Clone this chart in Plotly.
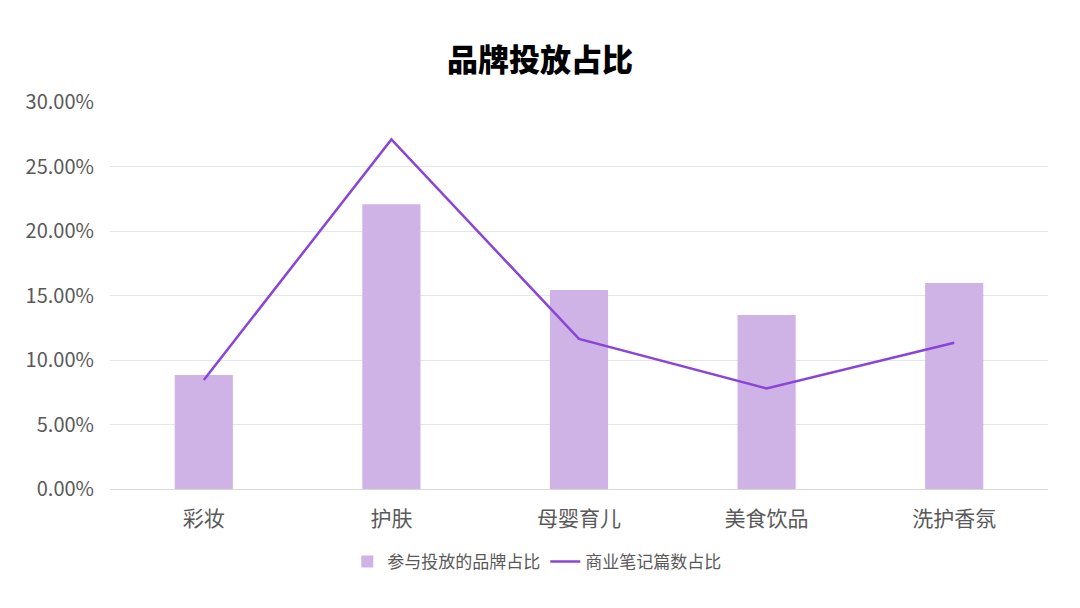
import plotly.graph_objects as go

categories = ["彩妆", "护肤", "母婴育儿", "美食饮品", "洗护香氛"]
brand_share = [0.0884, 0.2208, 0.1543, 0.1349, 0.1596]
note_share = [0.0845, 0.2710, 0.1163, 0.0780, 0.1134]
tick_vals = [0, 0.05, 0.10, 0.15, 0.20, 0.25, 0.30]
tick_text = ["0.00%", "5.00%", "10.00%", "15.00%", "20.00%", "25.00%", "30.00%"]

FONT = "Noto Sans CJK SC"

fig = go.Figure()
fig.add_trace(go.Bar(
    x=categories, y=brand_share, name="参与投放的品牌占比",
    marker=dict(color="#CFB3E6", line=dict(width=0)), width=0.31,
))
fig.add_trace(go.Scatter(
    x=categories, y=note_share, name="商业笔记篇数占比", mode="lines",
    line=dict(color="#8A45D6", width=2.5),
))

fig.update_layout(
    width=1080, height=608,
    paper_bgcolor="white", plot_bgcolor="white",
    margin=dict(l=102, r=40, t=94, b=127),
    title=dict(text="品牌投放占比", x=0.4926, xanchor="center", y=0.9145, yanchor="middle",
               font=dict(family=FONT, size=31, color="#000000", weight=900)),
    font=dict(family=FONT, color="#595959"),
    showlegend=True,
    legend=dict(orientation="h", x=0.455, xanchor="center", y=-0.1886, yanchor="middle",
                font=dict(family=FONT, size=17, color="#595959"), itemwidth=30,
                traceorder="normal"),
    bargap=0.69,
)
fig.update_xaxes(
    showgrid=False, showline=True, linecolor="#D9D9D9", linewidth=1,
    tickfont=dict(family=FONT, size=21, color="#595959"), ticks="",
    ticklabelstandoff=11,
)
fig.update_yaxes(
    range=[0, 0.30], tickvals=tick_vals, ticktext=tick_text,
    showgrid=True, gridcolor="#E6E6E6", gridwidth=1, zeroline=False,
    tickfont=dict(family=FONT, size=20, color="#595959"), ticks="",
    ticklabelstandoff=15,
)

fig.write_html("out.html")
